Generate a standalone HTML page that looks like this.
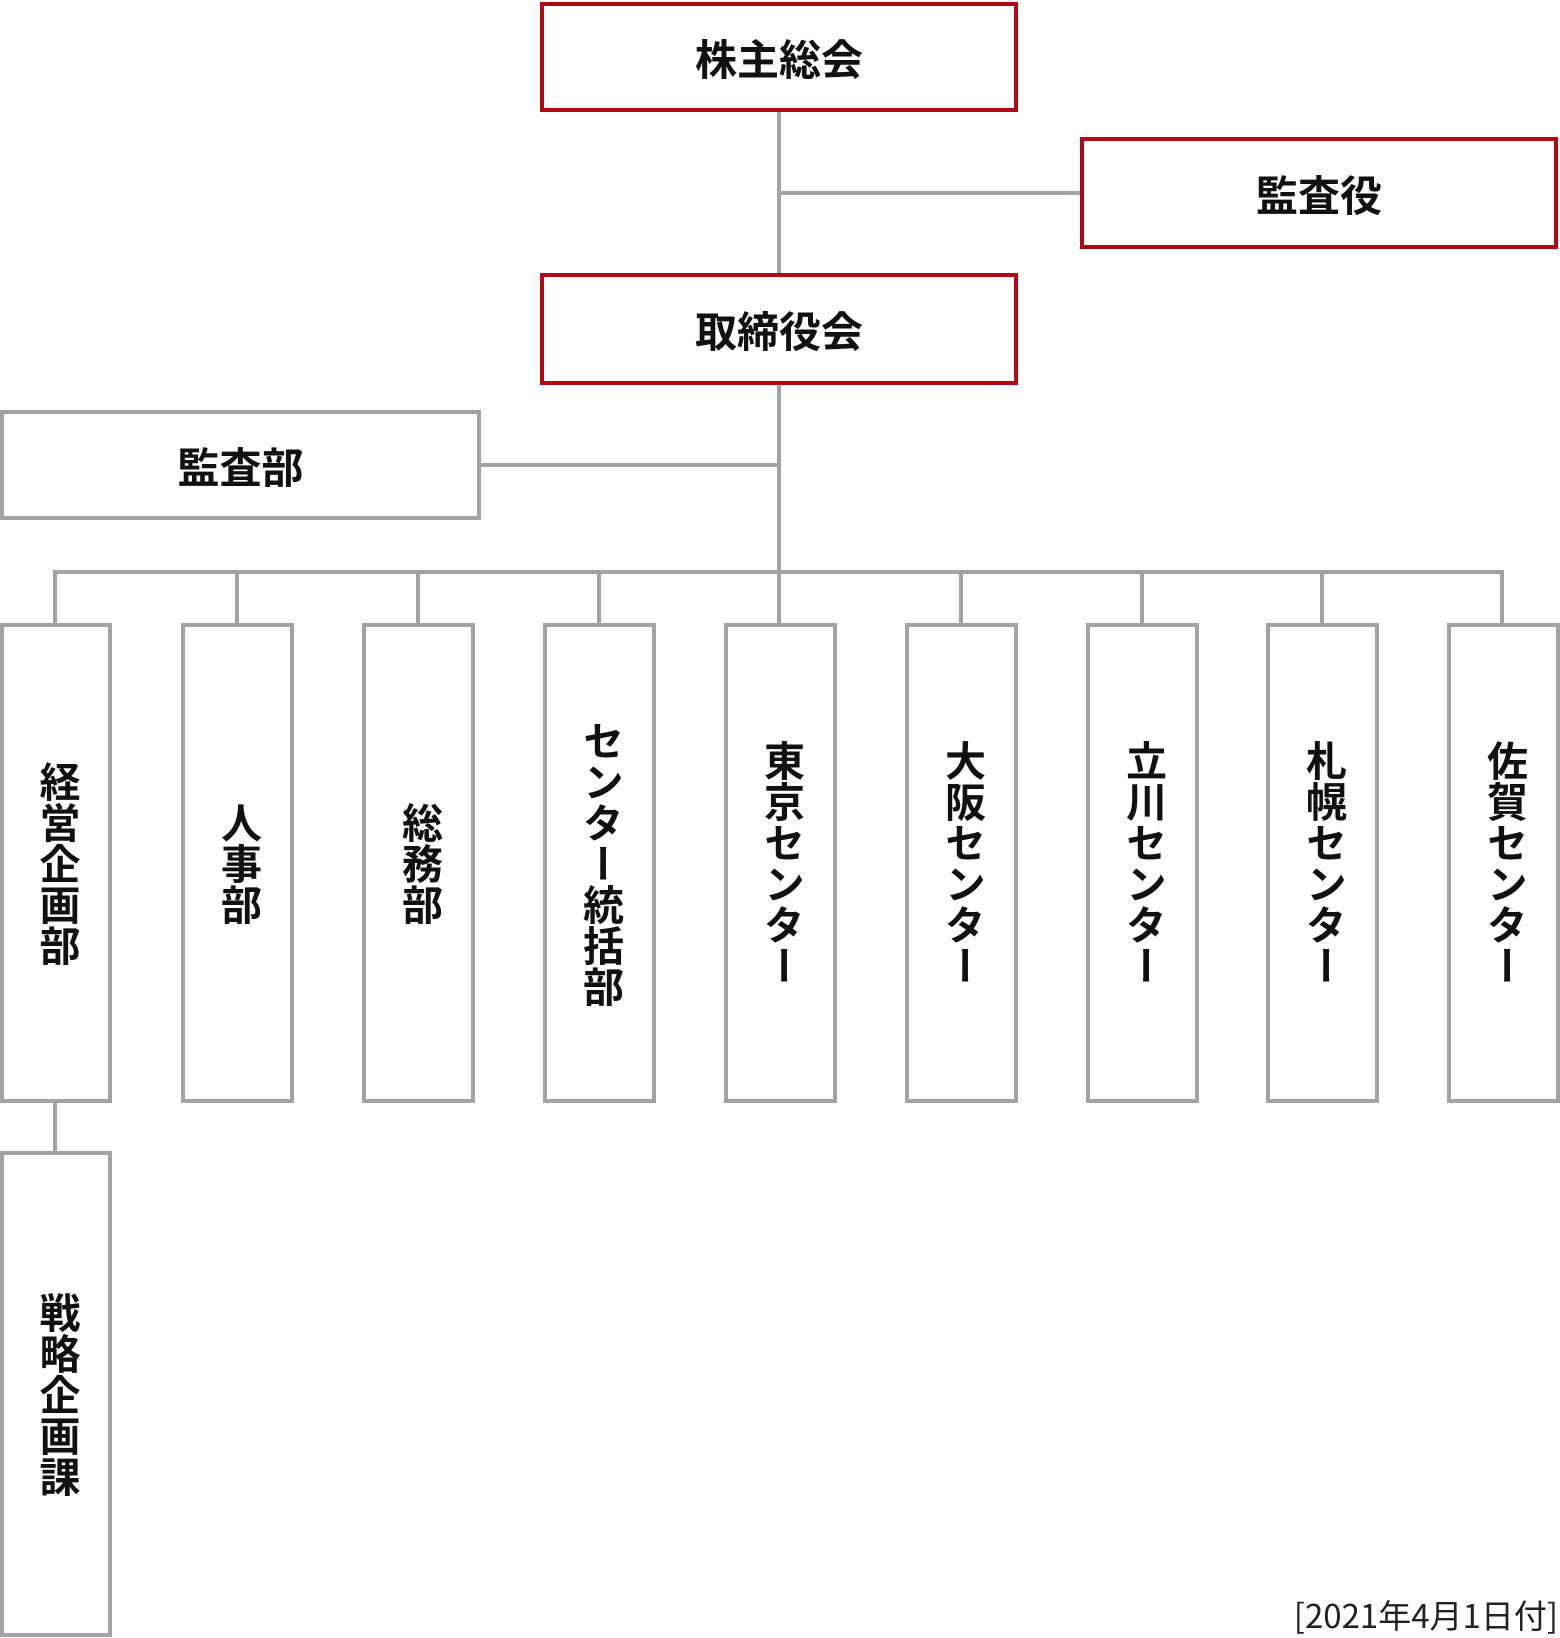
<!DOCTYPE html>
<html><head><meta charset="utf-8"><style>
html,body{margin:0;padding:0;background:#fff;}
body{width:1560px;height:1634px;position:relative;overflow:hidden;font-family:"Liberation Sans","Noto Sans CJK JP",sans-serif;}
.b{position:absolute;box-sizing:border-box;background:#fff;display:flex;align-items:center;justify-content:center;font-weight:bold;font-size:42px;color:#111;}
.r{border:4px solid #b00a14;}
.g{border:4px solid #a3a3a3;}
.v{writing-mode:vertical-rl;text-orientation:upright;font-size:41px;}
.l{position:absolute;background:#a3a3a3;}
</style></head><body>
<div class="l" style="left:777px;top:110px;width:4px;height:166px"></div>
<div class="l" style="left:777px;top:191px;width:305px;height:4px"></div>
<div class="l" style="left:777px;top:383px;width:4px;height:192px"></div>
<div class="l" style="left:478px;top:463px;width:301px;height:4px"></div>
<div class="l" style="left:53px;top:570px;width:1451px;height:4px"></div>
<div class="l" style="left:53px;top:570px;width:4px;height:56px"></div>
<div class="l" style="left:235px;top:570px;width:4px;height:56px"></div>
<div class="l" style="left:416px;top:570px;width:4px;height:56px"></div>
<div class="l" style="left:597px;top:570px;width:4px;height:56px"></div>
<div class="l" style="left:777px;top:570px;width:4px;height:56px"></div>
<div class="l" style="left:959px;top:570px;width:4px;height:56px"></div>
<div class="l" style="left:1140px;top:570px;width:4px;height:56px"></div>
<div class="l" style="left:1320px;top:570px;width:4px;height:56px"></div>
<div class="l" style="left:1500px;top:570px;width:4px;height:56px"></div>
<div class="l" style="left:53px;top:1100px;width:4px;height:54px"></div>

<div class="b r" style="left:540px;top:2px;width:478px;height:110px">株主総会</div>
<div class="b r" style="left:1080px;top:137px;width:478px;height:112px">監査役</div>
<div class="b r" style="left:540px;top:273px;width:478px;height:112px">取締役会</div>
<div class="b g" style="left:0;top:410px;width:481px;height:110px">監査部</div>

<div class="b g v" style="left:0;top:623px;width:112px;height:480px">経営企画部</div>
<div class="b g v" style="left:181px;top:623px;width:113px;height:480px">人事部</div>
<div class="b g v" style="left:362px;top:623px;width:113px;height:480px">総務部</div>
<div class="b g v" style="left:543px;top:623px;width:113px;height:480px">センター統括部</div>
<div class="b g v" style="left:724px;top:623px;width:113px;height:480px">東京センター</div>
<div class="b g v" style="left:905px;top:623px;width:113px;height:480px">大阪センター</div>
<div class="b g v" style="left:1086px;top:623px;width:113px;height:480px">立川センター</div>
<div class="b g v" style="left:1266px;top:623px;width:113px;height:480px">札幌センター</div>
<div class="b g v" style="left:1447px;top:623px;width:113px;height:480px">佐賀センター</div>
<div class="b g v" style="left:0;top:1151px;width:112px;height:486px">戦略企画課</div>

<div style="position:absolute;right:2px;top:1594px;font-size:33px;font-family:'Noto Sans CJK JP',sans-serif;color:#222;line-height:40px;white-space:nowrap">[2021年4月1日付]</div>
</body></html>
